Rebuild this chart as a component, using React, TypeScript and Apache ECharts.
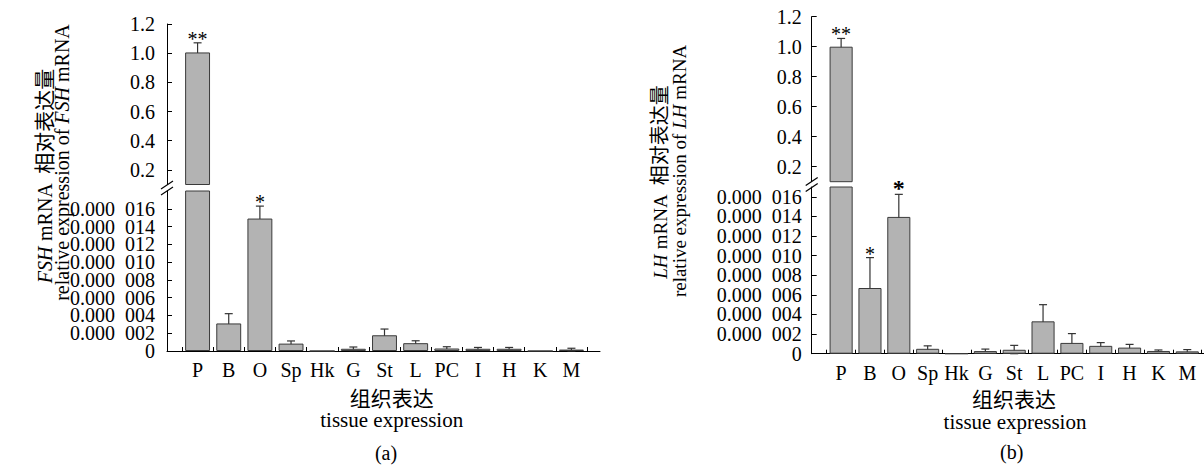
import React, { useEffect, useRef } from 'react';
import * as echarts from 'echarts';

const categories = ['P', 'B', 'O', 'Sp', 'Hk', 'G', 'St', 'L', 'PC', 'I', 'H', 'K', 'M'];

// Panel (a) FSH
const fshMean = [1.005, 0.0000031, 0.0000149, 0.00000083, 0, 0.00000025, 0.00000177, 0.00000088, 0.00000028, 0.00000025, 0.00000025, 0, 0.00000016];
const fshErr = [0.066, 0.0000011, 0.0000014, 0.0000003, 0, 0.0000002, 0.0000007, 0.00000027, 0.0000002, 0.00000015, 0.00000015, 0, 0.00000015];
const fshStars = ['**', '', '*', '', '', '', '', '', '', '', '', '', ''];

// Panel (b) LH
const lhMean = [1.0, 0.0000067, 0.00001395, 0.0000005, 0, 0.00000027, 0.0000004, 0.0000033, 0.0000011, 0.0000008, 0.00000062, 0.00000028, 0.00000024];
const lhErr = [0.055, 0.0000031, 0.0000023, 0.0000003, 0, 0.0000002, 0.00000045, 0.0000017, 0.00000095, 0.00000033, 0.00000033, 0.0000001, 0.00000018];
const lhStars = ['**', '*', '*', '', '', '', '', '', '', '', '', '', ''];
const lhBoldStars = [false, false, true, false, false, false, false, false, false, false, false, false, false];

const upperTicks = [0.2, 0.4, 0.6, 0.8, 1.0, 1.2];
const lowerTicks = [0, 0.000002, 0.000004, 0.000006, 0.000008, 0.00001, 0.000012, 0.000014, 0.000016];
// labels split into two interleaved sets so neighbouring labels never get auto-hidden
const lowerLabelsEven = [0, 0.000004, 0.000008, 0.000012, 0.000016];
const lowerLabelsOdd = [0.000002, 0.000006, 0.00001, 0.000014];

const SERIF = "'Liberation Serif', 'Times New Roman', 'Noto Sans CJK SC', serif";
const FS = 20;

const lowerFmt = (v: number) => {
  if (Math.abs(v) < 1e-12) return '0';
  const n = Math.round(v * 1e6);
  return '0.000\u2002' + String(n).padStart(3, '0');
};
const upperFmt = (v: number) => v.toFixed(1);

function makeRender(stars: string[], bold: boolean[]) {
  return (params: any, api: any) => {
    const i = api.value(0);
    const m = api.value(1);
    const e = api.value(2);
    const top = api.coord([i, m + e]);
    const bot = api.coord([i, Math.max(m - e, 0)]);
    const cap = 4;
    const ls = { stroke: '#333', lineWidth: 1.2 };
    const children: any[] = [
      { type: 'line', shape: { x1: top[0], y1: top[1], x2: bot[0], y2: bot[1] }, style: ls },
      { type: 'line', shape: { x1: top[0] - cap, y1: top[1], x2: top[0] + cap, y2: top[1] }, style: ls },
      { type: 'line', shape: { x1: bot[0] - cap, y1: bot[1], x2: bot[0] + cap, y2: bot[1] }, style: ls },
    ];
    const s = stars[i];
    if (s) {
      children.push({
        type: 'text',
        x: top[0],
        y: top[1] + 6,
        style: {
          text: s,
          fontSize: bold[i] ? 24 : FS,
          fontWeight: bold[i] ? 'bold' : 'normal',
          fontFamily: SERIF,
          align: 'center',
          verticalAlign: 'bottom',
          fill: '#000',
        },
      });
    }
    return { type: 'group', children };
  };
}

export default function App() {
  const ref = useRef<HTMLDivElement>(null);
  useEffect(() => {
    document.body.style.margin = '0';
    const chart = echarts.init(ref.current!, undefined, { renderer: 'svg' });

    const panels = [
      {
        mean: fshMean, err: fshErr, stars: fshStars, bold: fshStars.map(() => false),
        axisX: 167, left: 182, width: 405, right: 600,
        upTop: 24, upH: 160.5, lowTop: 191, lowH: 160, lowMax: 0.000018,
        upLabelMargin: 12, lowLabelMargin: 12,
      },
      {
        mean: lhMean, err: lhErr, stars: lhStars, bold: lhBoldStars,
        axisX: 811.7, left: 826.7, width: 375, right: 1204,
        upTop: 16.7, upH: 165, lowTop: 187, lowH: 166.7, lowMax: 0.000017,
        upLabelMargin: 10, lowLabelMargin: 10,
      },
    ];

    const grid: any[] = [];
    const xAxis: any[] = [];
    const yAxis: any[] = [];
    const series: any[] = [];

    const tickStyle = { color: '#000', width: 1 };
    const labelStyle = { fontSize: FS, fontFamily: SERIF, color: '#000', hideOverlap: false, showMinLabel: true, showMaxLabel: true };

    panels.forEach((p) => {
      const offset = p.left - p.axisX;
      // upper grid
      const gu = grid.length;
      grid.push({ left: p.left, top: p.upTop, width: p.width, height: p.upH });
      xAxis.push({ type: 'category', gridIndex: gu, data: categories, show: false });
      const yu = yAxis.length;
      yAxis.push({
        type: 'value', gridIndex: gu, position: 'left', min: 0.1, max: 1.2, offset,
        axisLine: { show: true, lineStyle: tickStyle },
        axisTick: { show: true, inside: true, length: 5, lineStyle: tickStyle, customValues: upperTicks },
        axisLabel: { ...labelStyle, margin: p.upLabelMargin, customValues: upperTicks, formatter: upperFmt },
        splitLine: { show: false },
      });
      // lower grid
      const gl = grid.length;
      grid.push({ left: p.left, top: p.lowTop, width: p.width, height: p.lowH });
      xAxis.push({
        type: 'category', gridIndex: gl, data: categories,
        axisLine: { show: true, lineStyle: tickStyle },
        axisTick: { show: true, inside: true, length: 4, interval: 0, alignWithLabel: false, lineStyle: tickStyle },
        axisLabel: { fontSize: FS, fontFamily: SERIF, color: '#000', margin: 9, interval: 0, hideOverlap: false },
      });
      const yl = yAxis.length;
      yAxis.push({
        type: 'value', gridIndex: gl, position: 'left', min: 0, max: p.lowMax, offset,
        axisLine: { show: true, lineStyle: tickStyle },
        axisTick: { show: true, inside: true, length: 5, lineStyle: tickStyle, customValues: lowerTicks },
        axisLabel: { ...labelStyle, margin: p.lowLabelMargin, customValues: lowerLabelsEven, formatter: lowerFmt },
        splitLine: { show: false },
      });
      yAxis.push({
        type: 'value', gridIndex: gl, position: 'left', min: 0, max: p.lowMax, offset,
        axisLine: { show: false }, axisTick: { show: false },
        axisLabel: { ...labelStyle, margin: p.lowLabelMargin, customValues: lowerLabelsOdd, formatter: lowerFmt },
        splitLine: { show: false },
      });
      // frame grid for the full-length x axis line
      const gf = grid.length;
      grid.push({ left: p.axisX, top: p.lowTop, width: p.right - p.axisX, height: p.lowH });
      xAxis.push({
        type: 'value', gridIndex: gf, min: 0, max: 1,
        axisLine: { show: true, lineStyle: tickStyle },
        axisTick: { show: false }, axisLabel: { show: false }, splitLine: { show: false },
      });
      yAxis.push({ type: 'value', gridIndex: gf, min: 0, max: 1, show: false, splitLine: { show: false } });

      const barStyle = { color: '#b3b3b3', borderColor: '#3a3a3a', borderWidth: 1 };
      [[gu, yu], [gl, yl]].forEach(([g, y]) => {
        series.push({
          type: 'bar', xAxisIndex: g, yAxisIndex: y, data: p.mean, barWidth: '80%',
          itemStyle: barStyle, clip: true, silent: true,
        });
      });
      const upData = p.mean.map((m, i) => [i, m, p.err[i]]).filter((d) => d[1] >= 0.1);
      const lowData = p.mean.map((m, i) => [i, m, p.err[i]]).filter((d) => d[1] < 0.1 && d[2] > 0);
      series.push({ type: 'custom', xAxisIndex: gu, yAxisIndex: yu, data: upData, renderItem: makeRender(p.stars, p.bold), silent: true });
      series.push({ type: 'custom', xAxisIndex: gl, yAxisIndex: yl, data: lowData, renderItem: makeRender(p.stars, p.bold), silent: true });
    });

    const rotText = (x: number, y: number, fs: number, italic: string, before: string, after: string, cjk: string) => ({
      type: 'text', x, y, rotation: Math.PI / 2,
      style: {
        text: (before ? `{n|${before}}` : '') + `{i|${italic}}` + `{n|${after}}` + (cjk ? `{c|${cjk}}` : ''),
        align: 'center', verticalAlign: 'middle', fill: '#000',
        fontSize: fs, fontFamily: SERIF,
        rich: {
          n: { fontSize: fs, lineHeight: 15, fontFamily: SERIF, fill: '#000' },
          i: { fontSize: fs, lineHeight: 15, fontFamily: SERIF, fontStyle: 'italic', fill: '#000' },
          c: { fontSize: fs + 1, lineHeight: 15, fontFamily: SERIF, fill: '#000' },
        },
      },
    });
    const plain = (x: number, y: number, text: string, fs: number) => ({
      type: 'text', x, y,
      style: { text, align: 'center', verticalAlign: 'middle', fill: '#000', fontSize: fs, fontFamily: SERIF },
    });
    const brk = (x: number, y: number) => [
      { type: 'line', shape: { x1: x - 6, y1: y + 2, x2: x + 6, y2: y - 6 }, style: { stroke: '#000', lineWidth: 1.2 } },
      { type: 'line', shape: { x1: x - 6, y1: y + 8, x2: x + 6, y2: y }, style: { stroke: '#000', lineWidth: 1.2 } },
    ];

    const graphic: any[] = [
      rotText(44.5, 176, 20, 'FSH', '', ' mRNA  ', '相对表达量'),
      rotText(61.5, 162.5, 20, 'FSH', 'relative expression of ', ' mRNA', ''),
      rotText(660, 182, 19, 'LH', '', ' mRNA  ', '相对表达量'),
      rotText(679, 171, 19, 'LH', 'relative expression of ', ' mRNA', ''),
      plain(391.7, 398.5, '组织表达', 21),
      plain(391.7, 420, 'tissue expression', 21),
      plain(386, 452.5, '(a)', 20),
      plain(1014, 400, '组织表达', 21),
      plain(1015, 421.5, 'tissue expression', 21),
      plain(1011.7, 452, '(b)', 20),
      ...brk(167, 187),
      ...brk(811.7, 183.5),
    ];

    chart.setOption({
      animation: false,
      backgroundColor: '#fff',
      grid, xAxis, yAxis, series, graphic,
    });
    return () => chart.dispose();
  }, []);
  return <div ref={ref} style={{ position: 'absolute', left: 0, top: 0, width: 1204, height: 471 }} />;
}
